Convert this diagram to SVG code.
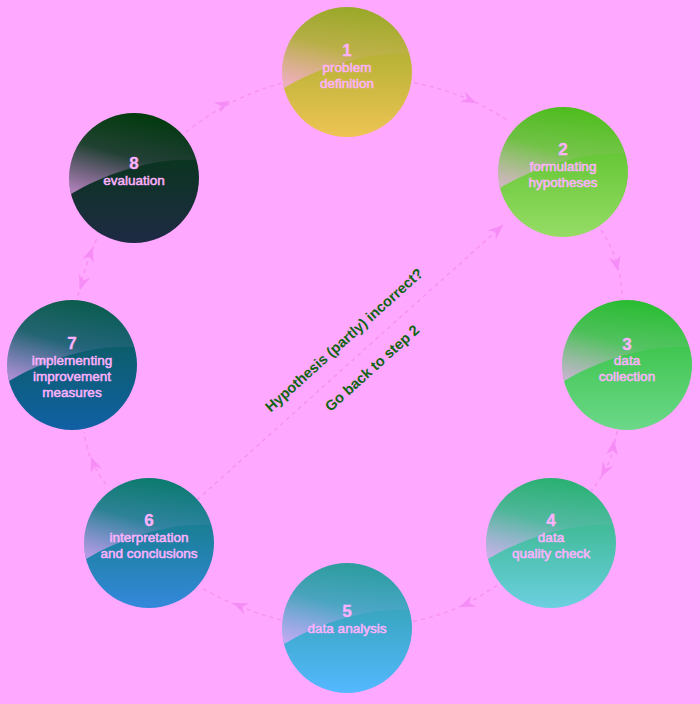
<svg xmlns="http://www.w3.org/2000/svg" xmlns:xlink="http://www.w3.org/1999/xlink" width="700" height="704" viewBox="0 0 700 704">
  <defs>
    <style>
      .num { font-family: "Liberation Sans", Arial, sans-serif; font-weight: bold; font-size: 17px; fill: #ffb2ff; stroke: #ffb2ff; stroke-width: 0.3px; text-anchor: middle; }
      .lbl { font-family: "Liberation Sans", Arial, sans-serif; font-size: 13.5px; fill: #ffb2ff; stroke: #ffb2ff; stroke-width: 0.5px; text-anchor: middle; }
      .gloss { fill: url(#gloss); }
      .conn { fill: none; stroke: #f692f6; stroke-width: 1.5; stroke-dasharray: 4 4; }
      .arr { fill: #f68cf6; }
      .note { font-family: "Liberation Sans", Arial, sans-serif; font-weight: bold; font-size: 14.5px; fill: #0e6410; text-anchor: middle; }
    </style>
    <linearGradient id="gloss" x1="0.6" y1="0" x2="0.15" y2="1">
      <stop offset="0" stop-color="#ffa8ff" stop-opacity="0"/>
      <stop offset="0.5" stop-color="#ffa8ff" stop-opacity="0.1"/>
      <stop offset="1" stop-color="#ffa8ff" stop-opacity="0.65"/>
    </linearGradient>
    <linearGradient id="g1" x1="0" y1="0" x2="0" y2="1"><stop offset="0" stop-color="#98a826"/><stop offset="1" stop-color="#eec454"/></linearGradient>
    <linearGradient id="g2" x1="0" y1="0" x2="0" y2="1"><stop offset="0" stop-color="#4cbc1c"/><stop offset="1" stop-color="#96dc66"/></linearGradient>
    <linearGradient id="g3" x1="0" y1="0" x2="0" y2="1"><stop offset="0" stop-color="#28bc30"/><stop offset="1" stop-color="#6cd88a"/></linearGradient>
    <linearGradient id="g4" x1="0" y1="0" x2="0" y2="1"><stop offset="0" stop-color="#28b070"/><stop offset="1" stop-color="#6ccfe0"/></linearGradient>
    <linearGradient id="g5" x1="0" y1="0" x2="0" y2="1"><stop offset="0" stop-color="#2a9c9c"/><stop offset="1" stop-color="#54b8ff"/></linearGradient>
    <linearGradient id="g6" x1="0" y1="0" x2="0" y2="1"><stop offset="0" stop-color="#0a7a6c"/><stop offset="1" stop-color="#3488dc"/></linearGradient>
    <linearGradient id="g7" x1="0" y1="0" x2="0" y2="1"><stop offset="0" stop-color="#0a5c4c"/><stop offset="1" stop-color="#1060a4"/></linearGradient>
    <linearGradient id="g8" x1="0" y1="0" x2="0" y2="1"><stop offset="0" stop-color="#003a0c"/><stop offset="1" stop-color="#1e2a44"/></linearGradient>
    <path id="gl" d="M-63,16 C-30,-4 20,-21 62.5,-18 A65,65 0 0 0 -63,16 Z"/>
    <path id="ah" d="M0,0 L-15,-6 L-10,0 L-15,6 Z"/>
  </defs>

  <rect width="700" height="704" fill="#ffa8ff"/>

  <g id="connectors">
    <path class="conn" d="M186,132 Q229,97.5 282,83"/>
    <use href="#ah" class="arr" transform="translate(230,101) rotate(-28)"/>
    <path class="conn" d="M414,83 Q466.5,92.5 510,122"/>
    <use href="#ah" class="arr" transform="translate(476,103) rotate(25)"/>
    <path class="conn" d="M601,230 Q622,261 622,299"/>
    <use href="#ah" class="arr" transform="translate(618,271) rotate(77)"/>
    <path class="conn" d="M617,431 Q613,465 591,491"/>
    <use href="#ah" class="arr" transform="translate(614,440) rotate(-83)"/>
    <use href="#ah" class="arr" transform="translate(601,477) rotate(118)"/>
    <path class="conn" d="M497,585 Q457,614 409,622"/>
    <use href="#ah" class="arr" transform="translate(460,607) rotate(156)"/>
    <path class="conn" d="M281,620 Q238,609 200,587"/>
    <use href="#ah" class="arr" transform="translate(233,603) rotate(203)"/>
    <path class="conn" d="M106,484 Q88,462 84,432"/>
    <use href="#ah" class="arr" transform="translate(91,457) rotate(-111)"/>
    <path class="conn" d="M78,296 Q84,268 97,238"/>
    <use href="#ah" class="arr" transform="translate(93,247) rotate(-70)"/>
    <use href="#ah" class="arr" transform="translate(80,290) rotate(108)"/>
    <path class="conn" d="M197,500 L503,225"/>
    <use href="#ah" class="arr" transform="translate(503,225) rotate(-42)"/>
    <text class="note" transform="translate(344,340) rotate(-42)" y="5">Hypothesis (partly) incorrect?</text>
    <text class="note" transform="translate(372,368) rotate(-42)" y="5">Go back to step 2</text>
  </g>

  <g id="node1" transform="translate(347,72)">
    <circle r="65" fill="url(#g1)"/>
    <use href="#gl" class="gloss"/>
    <text class="num" y="-16">1</text>
    <text class="lbl" y="0">problem</text>
    <text class="lbl" y="16">definition</text>
  </g>
  <g id="node2" transform="translate(563,172)">
    <circle r="65" fill="url(#g2)"/>
    <use href="#gl" class="gloss"/>
    <text class="num" y="-17">2</text>
    <text class="lbl" y="-1">formulating</text>
    <text class="lbl" y="15">hypotheses</text>
  </g>
  <g id="node3" transform="translate(627,365)">
    <circle r="65" fill="url(#g3)"/>
    <use href="#gl" class="gloss"/>
    <text class="num" y="-15">3</text>
    <text class="lbl" y="0">data</text>
    <text class="lbl" y="16">collection</text>
  </g>
  <g id="node4" transform="translate(551,543)">
    <circle r="65" fill="url(#g4)"/>
    <use href="#gl" class="gloss"/>
    <text class="num" y="-17">4</text>
    <text class="lbl" y="-1">data</text>
    <text class="lbl" y="15">quality check</text>
  </g>
  <g id="node5" transform="translate(347,628)">
    <circle r="65" fill="url(#g5)"/>
    <use href="#gl" class="gloss"/>
    <text class="num" y="-11">5</text>
    <text class="lbl" y="5">data analysis</text>
  </g>
  <g id="node6" transform="translate(149,543)">
    <circle r="65" fill="url(#g6)"/>
    <use href="#gl" class="gloss"/>
    <text class="num" y="-17">6</text>
    <text class="lbl" y="-1">interpretation</text>
    <text class="lbl" y="15">and conclusions</text>
  </g>
  <g id="node7" transform="translate(72,365)">
    <circle r="65" fill="url(#g7)"/>
    <use href="#gl" class="gloss"/>
    <text class="num" y="-16">7</text>
    <text class="lbl" y="0">implementing</text>
    <text class="lbl" y="16">improvement</text>
    <text class="lbl" y="32">measures</text>
  </g>
  <g id="node8" transform="translate(134,178)">
    <circle r="65" fill="url(#g8)"/>
    <use href="#gl" class="gloss"/>
    <text class="num" y="-9">8</text>
    <text class="lbl" y="7">evaluation</text>
  </g>
</svg>
